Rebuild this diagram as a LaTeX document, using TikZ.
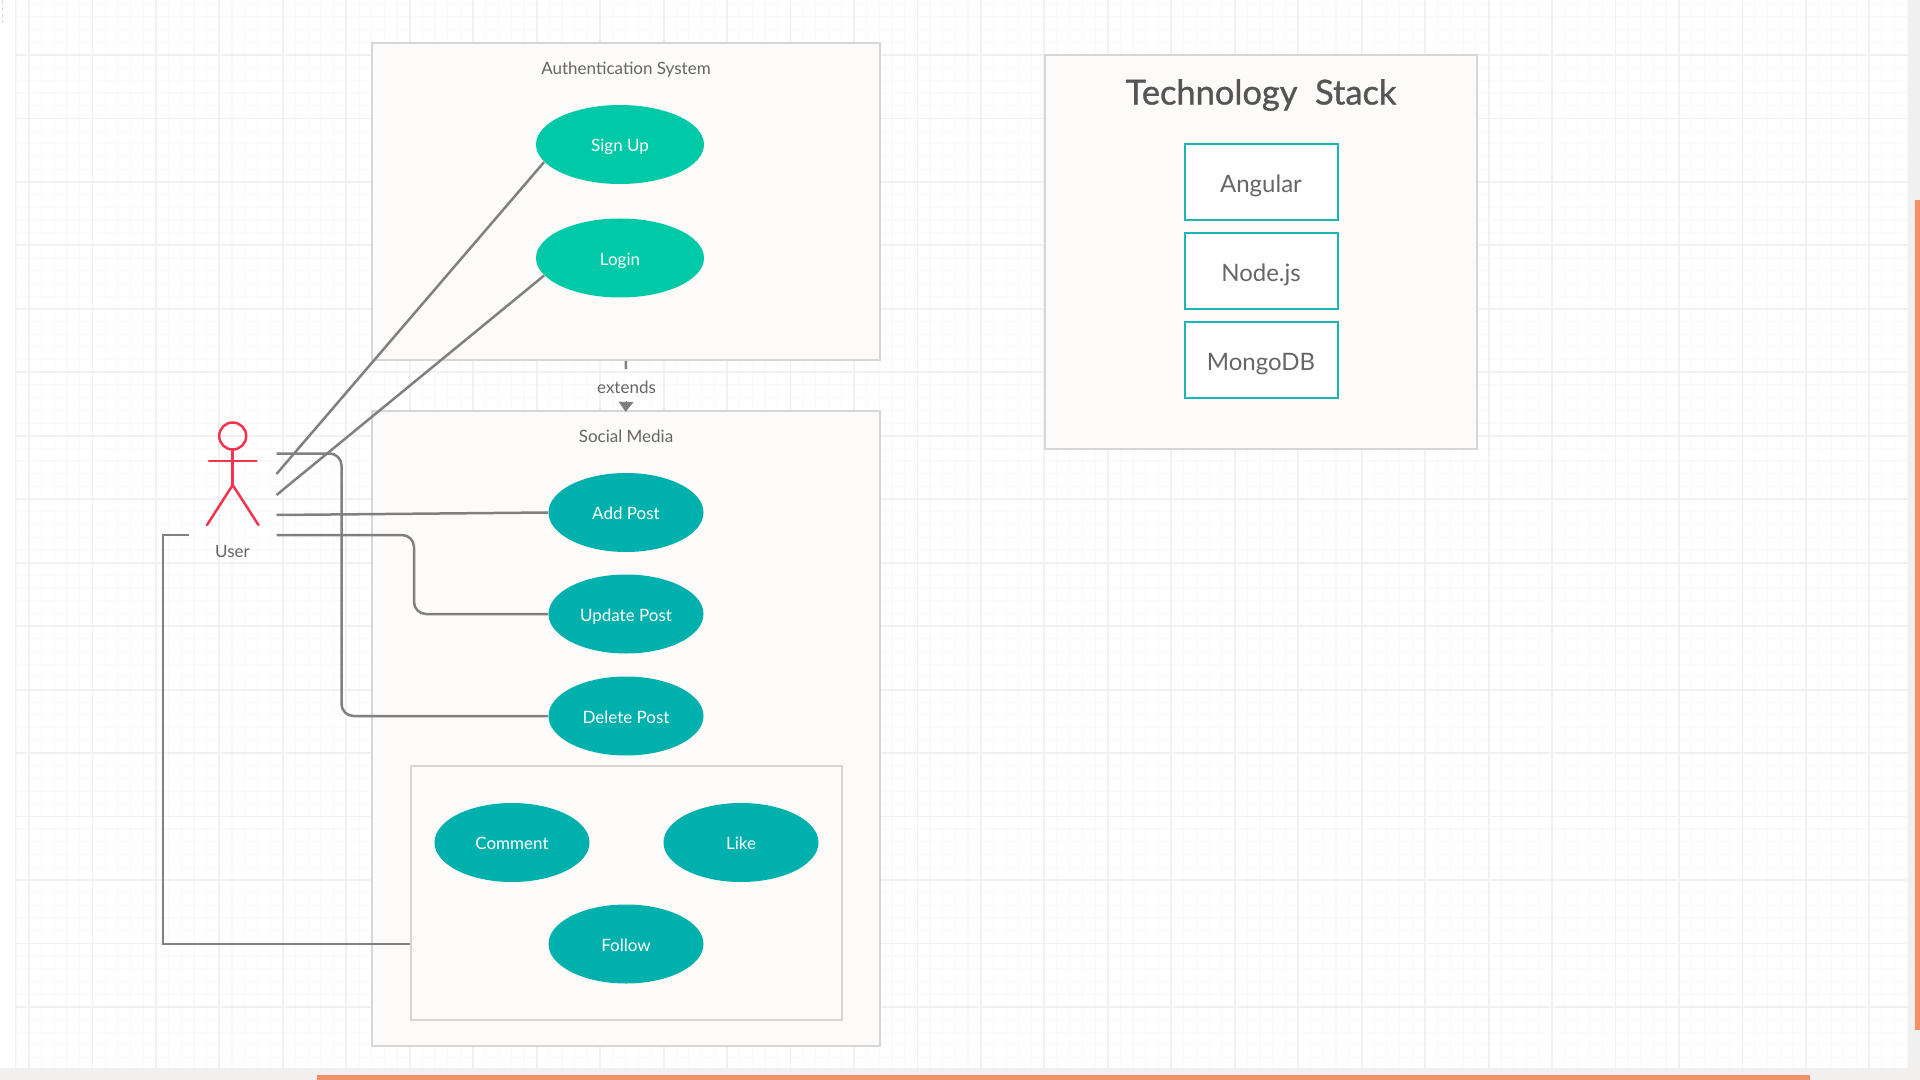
\documentclass[tikz,border=0pt]{standalone}
\usepackage{fontspec}
\setmainfont{Lato}
\newfontfamily\headfont[FakeBold=1.0]{Lato}
\usetikzlibrary{shapes.geometric,arrows.meta}
\definecolor{chrome}{HTML}{F2F0EE}
\definecolor{gridmajor}{HTML}{F1F1F1}
\definecolor{gridminor}{HTML}{FAFAFA}
\definecolor{boxfill}{HTML}{FCFBF9}
\definecolor{boxline}{HTML}{D6D6D6}
\definecolor{connline}{HTML}{808080}
\definecolor{labelgray}{HTML}{666666}
\definecolor{titlegray}{HTML}{555555}
\definecolor{authgreen}{HTML}{00C9A7}
\definecolor{socteal}{HTML}{00B0AD}
\definecolor{techline}{HTML}{1CB5B5}
\definecolor{actorred}{HTML}{F5334F}
\definecolor{barorange}{HTML}{F49068}
\tikzset{
  x=0.5pt,y=-0.5pt,
  pane/.style={rectangle,draw=boxline,fill=boxfill,line width=1pt,inner sep=0pt},
  caption/.style={text=labelgray,font=\fontsize{8.5}{10}\selectfont,inner sep=0pt},
  casetext/.style={text=white,font=\fontsize{8.5}{10}\selectfont,text height=8.6pt,text depth=1.4pt,inner sep=0pt},
  authcase/.style={ellipse,fill=authgreen,casetext,minimum width=84pt,minimum height=39.5pt},
  soccase/.style={ellipse,fill=socteal,casetext,minimum width=77.5pt,minimum height=39.5pt},
  techbox/.style={rectangle,draw=techline,fill=white,line width=1pt,text=labelgray,font=\fontsize{12}{14}\selectfont,text height=11.8pt,text depth=1.2pt,minimum width=76.5pt,minimum height=38pt,inner sep=0pt},
  conn/.style={draw=connline,line width=1.25pt},
  bendconn/.style={conn,rounded corners=6pt},
  limb/.style={draw=actorred,line width=1.25pt,line cap=round},
}
\begin{document}
\begin{tikzpicture}
\useasboundingbox (0,0) rectangle (1920,1080);
% window chrome and canvas
\fill[white] (0,0) rectangle (1920,1080);
\fill[chrome] (0,1068) rectangle (1920,1080);
\fill[chrome] (1908,0) rectangle (1920,1080);
\fill[barorange] (317,1075) rectangle (1810,1080);
\fill[barorange] (1915,200) rectangle (1920,1030);
\draw[boxline,line width=0.5pt,dash pattern=on 2pt off 1.5pt] (2,0) -- (2,23);
% grid
\begin{scope}
\clip (15,0) rectangle (1908,1068);
\foreach \i in {-2,...,150}{
  \draw[gridminor,line width=0.6pt] ({29+12.69*\i},0) -- ({29+12.69*\i},1068);
}
\foreach \i in {-5,...,85}{
  \draw[gridminor,line width=0.6pt] (0,{55+12.69*\i}) -- (1908,{55+12.69*\i});
}
\foreach \i in {0,...,29}{
  \draw[gridmajor,line width=0.9pt] ({29+63.46*\i},0) -- ({29+63.46*\i},1068);
}
\foreach \i in {0,...,16}{
  \draw[gridmajor,line width=0.9pt] (0,{55+63.46*\i}) -- (1908,{55+63.46*\i});
}
\draw[gridmajor,line width=0.9pt] (15,0) -- (15,1068);
\end{scope}
% panes
\node[pane,minimum width=254pt,minimum height=158.5pt] (auth) at (625.75,201.5) {};
\node[pane,minimum width=254pt,minimum height=317.5pt] (social) at (625.75,728) {};
\node[pane,minimum width=215.5pt,minimum height=127pt] (inner) at (626.25,893) {};
\node[pane,minimum width=216pt,minimum height=197pt] (tech) at (1261.25,252) {};
% titles
\node[caption] (authtitle) at (626,70) {Authentication System};
\node[caption] (socialtitle) at (626,436.5) {Social Media};
\node[text=titlegray,font=\fontsize{17.2}{20}\selectfont\headfont,inner sep=0pt] (techtitle) at (1261,95) {Technology\ \ Stack};
% use cases
\node[authcase] (signup) at (620,144.5) {Sign Up};
\node[authcase] (login) at (620,258) {Login};
\node[soccase] (addpost) at (626,512.5) {Add Post};
\node[soccase] (updatepost) at (626,614) {Update Post};
\node[soccase] (deletepost) at (626,716) {Delete Post};
\node[soccase] (comment) at (512,842.5) {Comment};
\node[soccase] (like) at (741,842.5) {Like};
\node[soccase] (follow) at (626,944) {Follow};
% tech stack
\node[techbox] (angular) at (1261,182) {Angular};
\node[techbox] (node) at (1261,271) {Node.js};
\node[techbox] (mongo) at (1261,360) {MongoDB};
% actor
\node[circle,draw=actorred,line width=1.25pt,minimum size=13.5pt,inner sep=0pt] (head) at (232.7,436) {};
\coordinate (armL) at (209,461);
\coordinate (armR) at (256.5,461);
\coordinate (hip) at (232.7,485);
\coordinate (footL) at (207,525);
\coordinate (footR) at (258.5,525);
\draw[limb] (head.south) -- (hip);
\draw[limb] (armL) -- (armR);
\draw[limb] (footL) -- (hip) -- (footR);
\node[caption] (user) at (232.5,551) {User};
% connector start points beside the actor
\coordinate (u1) at (276.5,453.5);
\coordinate (u2) at (276.5,474);
\coordinate (u3) at (276.5,495);
\coordinate (u4) at (276.5,515);
\coordinate (u5) at (276.5,535);
\coordinate (u6) at (189,535);
\coordinate (b1a) at (341.5,453.5);
\coordinate (b1b) at (341.5,716);
\coordinate (b5a) at (414,535);
\coordinate (b5b) at (414,614);
\coordinate (b6a) at (163,535);
\coordinate (b6b) at (163,944);
% connectors
\draw[conn] (u2) -- (signup.193);
\draw[conn] (u3) -- (login.193);
\draw[conn] (u4) -- (addpost.west);
\draw[bendconn] (u5) -- (b5a) -- (b5b) -- (updatepost.west);
\draw[bendconn] (u1) -- (b1a) -- (b1b) -- (deletepost.west);
\draw[conn] (u6) -- (b6a) -- (b6b) -- (b6b -| inner.west);
% extends
\node[caption] (extends) at (626.5,387) {extends};
\coordinate (extstop) at (626,369);
\coordinate (extstart) at (626,402);
\draw[conn] (auth.south) -- (extstop);
\draw[draw=connline,fill=connline,line width=0pt,shorten >=-1.2pt,-{Triangle[length=5pt,width=7.5pt]}] (extstart) -- (social.north);
\end{tikzpicture}
\end{document}
